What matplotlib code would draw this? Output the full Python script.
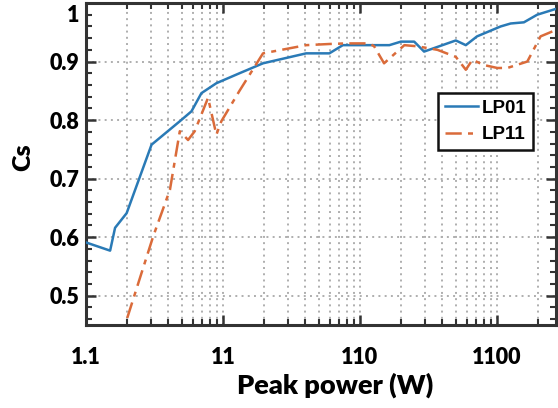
import matplotlib
matplotlib.use("Agg")
import matplotlib.pyplot as plt
from matplotlib.ticker import MultipleLocator, LogLocator, NullFormatter, FixedLocator
import matplotlib.transforms as mtransforms

# ---- data ----
x_lp01 = [1.0, 1.5, 1.63, 1.98, 3.01, 4.84, 5.89, 6.96, 8.95, 13.2, 19.6, 40.5, 59.8,
          75, 164, 199, 249, 294, 501, 593, 716, 1066, 1260, 1574, 1968, 2700]
y_lp01 = [0.591, 0.577, 0.616, 0.641, 0.758, 0.798, 0.815, 0.846, 0.863, 0.880, 0.897,
          0.914, 0.914, 0.928, 0.928, 0.934, 0.934, 0.917, 0.936, 0.928, 0.943, 0.960,
          0.965, 0.967, 0.980, 0.990]

x_lp11 = [2.0, 3.09, 4.1, 4.84, 5.56, 6.22, 7.78, 8.95, 9.73, 13.2, 19.6, 40.5, 60, 79,
          117, 127, 150, 211, 263, 368, 501, 593, 662, 805, 1007, 1191, 1667, 2083, 2700]
y_lp11 = [0.462, 0.601, 0.681, 0.781, 0.766, 0.781, 0.838, 0.775, 0.798, 0.850, 0.914,
          0.928, 0.930, 0.931, 0.931, 0.926, 0.897, 0.928, 0.926, 0.920, 0.908, 0.886,
          0.903, 0.894, 0.889, 0.889, 0.900, 0.943, 0.954]

series_labels = ["LP01", "LP11"]
xtick_values = [1, 10, 100, 1000]
xtick_labels = ["1.1", "11", "110", "1100"]
ytick_values = [0.5, 0.6, 0.7, 0.8, 0.9, 1.0]
ytick_labels = ["0.5", "0.6", "0.7", "0.8", "0.9", "1"]

# ---- figure ----
W, H = 558, 408
fig = plt.figure(figsize=(W / 100, H / 100), dpi=100)
ax = fig.add_axes([86 / W, 1 - 325 / H, (556 - 86) / W, (325 - 3) / H])

blue = "#2a7ab6"
orange = "#da6b3a"

ax.plot(x_lp01, y_lp01, color=blue, lw=1.8, label=series_labels[0], zorder=3)
ax.plot(x_lp11, y_lp11, color=orange, lw=1.8, dashes=(6.5, 2.5, 2, 2.5),
        label=series_labels[1], zorder=3)

ax.set_xscale("log")
ax.set_xlim(1, 2700)
ax.set_ylim(0.45, 1.0)

ax.xaxis.set_major_locator(FixedLocator(xtick_values))
ax.set_xticklabels(xtick_labels)
ax.xaxis.set_minor_locator(LogLocator(base=10, subs=range(2, 10), numticks=20))
ax.xaxis.set_minor_formatter(NullFormatter())
ax.set_yticks(ytick_values)
ax.set_yticklabels(ytick_labels)
ax.yaxis.set_minor_locator(MultipleLocator(0.02))

grid_kw = dict(color="#aeaeae", linestyle=(0, (1, 2.2)), linewidth=1.4)
ax.grid(True, which="major", axis="both", **grid_kw)
ax.grid(True, which="minor", axis="x", **grid_kw)
ax.set_axisbelow(True)

spine_col = "#333333"
for s in ax.spines.values():
    s.set_linewidth(2.2)
    s.set_color(spine_col)

ax.tick_params(which="both", direction="in", top=True, right=True, color=spine_col)
ax.tick_params(which="major", length=7.5, width=1.8)
ax.tick_params(which="minor", length=4, width=1.5)
ax.tick_params(axis="x", which="major", pad=16)
ax.tick_params(axis="y", which="major", pad=5)
for lab in ax.get_xticklabels() + ax.get_yticklabels():
    lab.set_fontfamily("Lato")
    lab.set_fontweight("heavy")
    lab.set_fontsize(15.5)

# the top "1" label sits slightly below the top spine
ylabs = ax.get_yticklabels()
off = mtransforms.ScaledTranslation(0, -10 / 100, fig.dpi_scale_trans)
ylabs[-1].set_transform(ylabs[-1].get_transform() + off)

ax.set_xlabel("Peak power (W)", fontfamily="Lato", fontweight="heavy", fontsize=19.5)
ax.xaxis.set_label_coords((335 - 86) / 470, (325 - 373) / 322)
ax.set_ylabel("Cs", fontfamily="Lato", fontweight="heavy", fontsize=18)
ax.yaxis.set_label_coords((34 - 86) / 470, 0.52)

leg = ax.legend(loc="upper left", bbox_to_anchor=(0.749, 0.72), borderaxespad=0,
                fancybox=False, framealpha=1, edgecolor="#111111",
                prop=dict(family="Liberation Sans", weight="bold", size=13.5),
                handlelength=1.8, handletextpad=0.2, borderpad=0.35, labelspacing=0.5)
leg.get_frame().set_linewidth(1.8)

fig.savefig("out.png", dpi=100)
